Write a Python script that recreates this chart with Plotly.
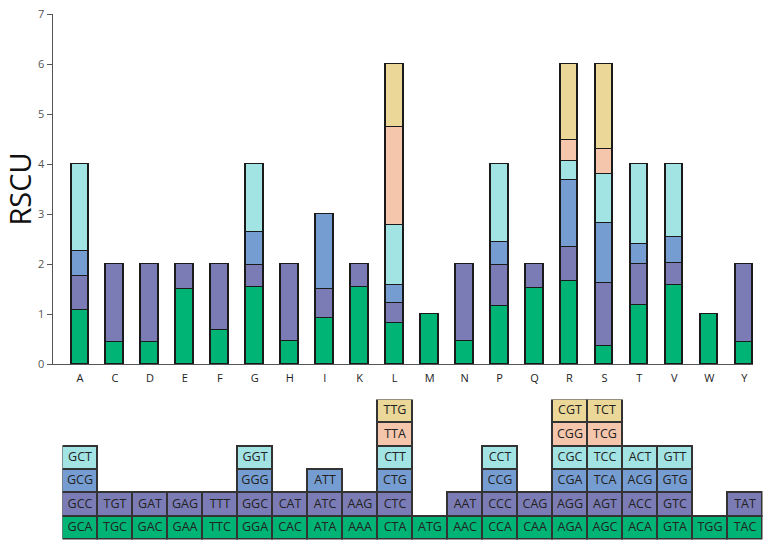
import plotly.graph_objects as go

W, H = 769, 551

amino_acids = ["A", "C", "D", "E", "F", "G", "H", "I", "K", "L",
               "M", "N", "P", "Q", "R", "S", "T", "V", "W", "Y"]

# RSCU values per stack layer (bottom -> top), None = codon absent
rscu_layer1 = [1.08, 0.44, 0.44, 1.51, 0.68, 1.55, 0.47, 0.93, 1.55, 0.83,
               1.00, 0.47, 1.16, 1.53, 1.67, 0.37, 1.19, 1.59, 1.00, 0.45]
rscu_layer2 = [0.68, 1.56, 1.56, 0.49, 1.32, 0.44, 1.53, 0.58, 0.45, 0.40,
               None, 1.53, 0.82, 0.47, 0.67, 1.26, 0.81, 0.44, None, 1.55]
rscu_layer3 = [0.51, None, None, None, None, 0.66, None, 1.49, None, 0.35,
               None, None, 0.46, None, 1.35, 1.20, 0.41, 0.51, None, None]
rscu_layer4 = [1.73, None, None, None, None, 1.35, None, None, None, 1.21,
               None, None, 1.56, None, 0.38, 0.97, 1.59, 1.46, None, None]
rscu_layer5 = [None, None, None, None, None, None, None, None, None, 1.96,
               None, None, None, None, 0.42, 0.50, None, None, None, None]
rscu_layer6 = [None, None, None, None, None, None, None, None, None, 1.25,
               None, None, None, None, 1.51, 1.70, None, None, None, None]

codon_layer1 = ["GCA", "TGC", "GAC", "GAA", "TTC", "GGA", "CAC", "ATA", "AAA", "CTA",
                "ATG", "AAC", "CCA", "CAA", "AGA", "AGC", "ACA", "GTA", "TGG", "TAC"]
codon_layer2 = ["GCC", "TGT", "GAT", "GAG", "TTT", "GGC", "CAT", "ATC", "AAG", "CTC",
                None, "AAT", "CCC", "CAG", "AGG", "AGT", "ACC", "GTC", None, "TAT"]
codon_layer3 = ["GCG", None, None, None, None, "GGG", None, "ATT", None, "CTG",
                None, None, "CCG", None, "CGA", "TCA", "ACG", "GTG", None, None]
codon_layer4 = ["GCT", None, None, None, None, "GGT", None, None, None, "CTT",
                None, None, "CCT", None, "CGC", "TCC", "ACT", "GTT", None, None]
codon_layer5 = [None, None, None, None, None, None, None, None, None, "TTA",
                None, None, None, None, "CGG", "TCG", None, None, None, None]
codon_layer6 = [None, None, None, None, None, None, None, None, None, "TTG",
                None, None, None, None, "CGT", "TCT", None, None, None, None]

y_ticks = [0, 1, 2, 3, 4, 5, 6, 7]

colors = ["#00B476", "#7B7CB6", "#769DD1", "#A2E4E4", "#F5C6AC", "#EBD898"]
rscu_layers = [rscu_layer1, rscu_layer2, rscu_layer3, rscu_layer4, rscu_layer5, rscu_layer6]
codon_layers = [codon_layer1, codon_layer2, codon_layer3, codon_layer4, codon_layer5, codon_layer6]

FONT = "Open Sans"

fig = go.Figure()

for vals, col in zip(rscu_layers, colors):
    xs = [a for a, v in zip(amino_acids, vals) if v is not None]
    ys = [v for v in vals if v is not None]
    fig.add_trace(go.Bar(
        x=xs, y=ys, xaxis="x", yaxis="y", width=0.5,
        marker=dict(color=col, line=dict(color="#1a1a1a", width=1.3)),
        showlegend=False, hoverinfo="x+y",
    ))

# codon table: one unit-high cell per codon, stacked by layer
txt_x, txt_y, txt_s = [], [], []
for level, (codons, col) in enumerate(zip(codon_layers, colors)):
    xs = [a for a, c in zip(amino_acids, codons) if c is not None]
    txt = [c for c in codons if c is not None]
    fig.add_trace(go.Bar(
        x=xs, y=[1] * len(xs), xaxis="x2", yaxis="y2", width=1.0,
        marker=dict(color=col, line=dict(color="#333333", width=1.4)),
        showlegend=False, hovertext=txt, hoverinfo="text",
    ))
    txt_x += xs
    txt_y += [level + 0.5] * len(xs)
    txt_s += txt

fig.add_trace(go.Scatter(
    x=txt_x, y=txt_y, text=txt_s, mode="text", xaxis="x2", yaxis="y2",
    textposition="middle center",
    textfont=dict(family=FONT, size=12.5, color="#222222"),
    showlegend=False, hoverinfo="skip",
))

x1_dom = [52.7 / W, 753.0 / W]
x2_dom = [62.5 / W, 762.5 / W]
y1_dom = [(H - 364) / H, (H - 14) / H]
y2_dom = [(H - 539.5) / H, (H - 399.5) / H]

fig.update_layout(
    width=W, height=H,
    margin=dict(l=0, r=0, t=0, b=0),
    plot_bgcolor="white", paper_bgcolor="white",
    barmode="stack", bargap=0,
    font=dict(family=FONT, color="#333333"),
    xaxis=dict(
        domain=x1_dom, type="category", categoryorder="array", categoryarray=amino_acids,
        range=[-0.78, 19.25], showline=True, linecolor="#555555", linewidth=1.3,
        ticks="outside", ticklen=4, tickcolor="rgba(0,0,0,0)", showgrid=False, zeroline=False,
        tickfont=dict(family=FONT, size=11, color="#222222"), anchor="y",
    ),
    yaxis=dict(
        domain=y1_dom, range=[0, 7], tickvals=y_ticks, ticks="outside", ticklen=5,
        tickcolor="#555555", tickwidth=1.2, showline=True, linecolor="#555555", linewidth=1.3,
        showgrid=False, zeroline=False, automargin=False,
        tickfont=dict(family=FONT, size=11, color="#555555"),
        title=dict(text="RSCU", font=dict(family=FONT, size=29, color="#111111"), standoff=13),
        anchor="x",
    ),
    xaxis2=dict(
        domain=x2_dom, type="category", categoryorder="array", categoryarray=amino_acids,
        range=[-0.5, 19.5], showline=False, showticklabels=False, ticks="",
        showgrid=False, zeroline=False, anchor="y2",
    ),
    yaxis2=dict(
        domain=y2_dom, range=[0, 6], showline=False, showticklabels=False, ticks="",
        showgrid=False, zeroline=False, anchor="x2",
    ),
)

fig.write_html("out.html")
